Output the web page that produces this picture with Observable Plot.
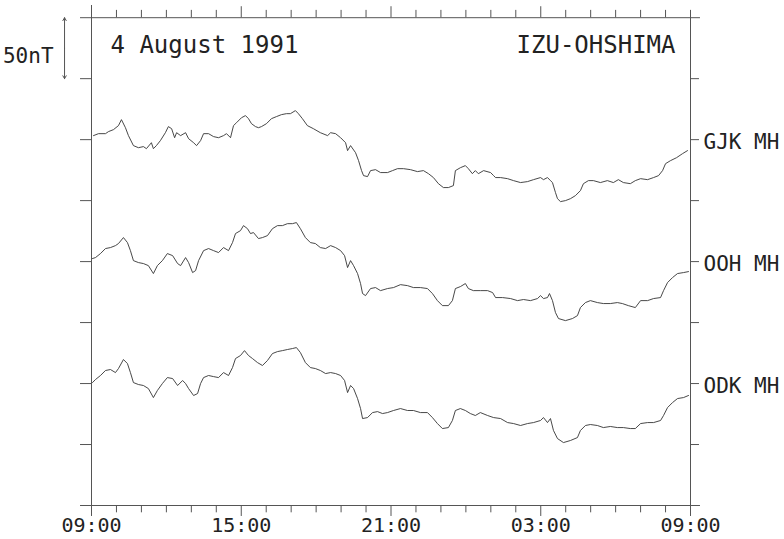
<!DOCTYPE html>
<html><head><meta charset="utf-8">
<script src="https://cdn.jsdelivr.net/npm/d3@7"></script>
<script src="https://cdn.jsdelivr.net/npm/@observablehq/plot@0.6"></script>
<style>body{margin:0;background:#fff}</style>
</head><body><div id="chart"></div>
<script>
// Hours since 09:00 on 4 August 1991; values are deviations in nT from each trace baseline
const stations = ["GJK MH", "OOH MH", "ODK MH"];
const baselines = [300, 200, 100];

const gjkT = [0.08,0.28,0.56,0.68,0.88,1.08,1.20,1.36,1.48,1.68,1.88,2.08,2.20,2.40,2.48,2.60,2.76,2.96,3.08,3.21,3.33,3.41,3.57,3.77,3.89,4.09,4.21,4.37,4.49,4.69,4.89,5.09,5.29,5.41,5.57,5.69,5.81,6.01,6.17,6.29,6.41,6.57,6.69,6.81,7.01,7.21,7.41,7.61,7.81,7.97,8.17,8.29,8.45,8.65,8.89,9.17,9.46,9.58,9.78,9.98,10.18,10.26,10.38,10.58,10.70,10.82,10.90,11.06,11.18,11.38,11.58,11.86,12.06,12.26,12.50,12.78,13.06,13.30,13.50,13.70,13.90,14.10,14.30,14.50,14.58,14.78,14.98,15.10,15.26,15.38,15.50,15.71,15.99,16.11,16.19,16.39,16.67,16.91,17.19,17.47,17.71,17.99,18.11,18.27,18.39,18.47,18.59,18.67,18.79,18.99,19.19,19.39,19.59,19.71,19.91,20.11,20.39,20.67,20.91,21.11,21.31,21.59,21.79,22.00,22.28,22.52,22.72,22.88,23.00,23.20,23.44,23.68,23.88];
const gjkV = [3.3,4.9,4.9,6.6,8.2,11.5,16.4,9.8,3.3,-4.9,-6.6,-5.7,-7.4,-2.5,-7.4,-4.9,-0.8,5.7,10.7,9.0,1.6,5.7,3.3,5.7,0.8,-2.5,-4.9,-0.8,4.9,4.9,2.5,1.6,3.3,4.9,1.6,11.5,13.9,18.0,19.7,17.2,13.1,10.7,9.8,10.7,13.1,17.2,18.9,20.5,21.3,21.3,23.8,21.3,17.2,11.5,9.0,5.7,3.3,5.7,4.9,1.6,-2.5,-9.0,-4.9,-10.7,-17.2,-25.4,-29.5,-30.3,-25.4,-24.6,-27.0,-27.0,-25.4,-23.8,-23.8,-24.6,-26.2,-25.4,-27.9,-31.1,-36.1,-39.3,-39.3,-37.7,-25.4,-23.0,-21.3,-23.8,-27.9,-25.4,-27.9,-25.4,-27.0,-29.5,-31.1,-31.1,-32.0,-33.6,-35.2,-34.4,-32.8,-31.1,-32.8,-31.1,-33.6,-35.2,-43.4,-48.4,-50.8,-50.0,-48.4,-45.9,-41.8,-36.1,-33.6,-33.6,-35.2,-33.6,-35.2,-32.8,-35.2,-36.1,-33.6,-32.0,-32.8,-31.1,-29.5,-25.4,-19.7,-17.2,-14.8,-11.5,-9.0];

const oohT = [0.04,0.16,0.36,0.56,0.76,0.96,1.08,1.28,1.44,1.56,1.68,1.88,2.08,2.28,2.48,2.64,2.84,3.04,3.25,3.45,3.57,3.77,3.89,4.05,4.17,4.29,4.49,4.69,4.89,5.09,5.29,5.49,5.65,5.77,5.97,6.09,6.25,6.37,6.49,6.69,6.85,7.05,7.25,7.45,7.65,7.85,8.05,8.21,8.37,8.57,8.77,8.97,9.17,9.38,9.58,9.78,9.98,10.14,10.26,10.38,10.50,10.66,10.78,10.86,10.98,11.18,11.38,11.58,11.86,12.10,12.38,12.66,12.90,13.18,13.46,13.66,13.86,14.06,14.30,14.46,14.58,14.78,14.98,15.10,15.30,15.58,15.87,16.07,16.19,16.47,16.79,17.07,17.31,17.59,17.87,17.99,18.11,18.27,18.35,18.47,18.59,18.71,18.99,19.27,19.47,19.59,19.79,19.99,20.27,20.51,20.79,21.07,21.27,21.51,21.79,22.00,22.28,22.52,22.80,22.92,23.08,23.28,23.48,23.72,23.92];
const oohV = [2.5,3.3,6.6,10.7,11.5,13.1,14.8,19.7,15.6,9.0,0.8,-0.8,-1.6,-3.3,-9.8,-3.3,0.8,6.6,4.9,-1.6,-3.3,3.3,-0.8,-9.0,-7.4,0.8,9.0,10.7,9.0,7.4,11.5,9.0,15.6,23.0,25.4,29.5,27.0,23.0,23.8,18.9,19.7,21.3,27.0,29.5,29.5,31.1,31.1,32.0,27.0,19.7,15.6,14.8,11.5,10.7,13.1,11.5,9.0,4.9,-4.9,0.8,-3.3,-9.8,-18.0,-26.2,-27.9,-22.1,-21.3,-23.8,-22.1,-21.3,-18.9,-19.7,-21.3,-21.3,-22.1,-26.2,-32.0,-36.1,-36.1,-32.0,-22.1,-20.5,-18.0,-22.1,-23.8,-23.8,-23.8,-25.4,-29.5,-29.5,-30.3,-32.0,-31.1,-32.0,-30.3,-27.9,-30.3,-29.5,-26.2,-32.0,-41.8,-46.7,-48.4,-46.7,-44.3,-37.7,-33.6,-32.0,-33.6,-34.4,-34.4,-33.6,-34.4,-36.1,-37.7,-32.0,-32.0,-30.3,-29.5,-23.8,-17.2,-13.1,-9.8,-9.0,-8.2];

const odkT = [0.04,0.16,0.36,0.56,0.76,0.96,1.08,1.28,1.44,1.56,1.68,1.88,2.08,2.28,2.48,2.64,2.84,3.04,3.25,3.45,3.65,3.77,3.89,4.09,4.25,4.37,4.49,4.69,4.89,5.09,5.29,5.49,5.65,5.77,5.97,6.13,6.29,6.45,6.65,6.85,7.05,7.25,7.45,7.65,7.85,8.05,8.21,8.37,8.57,8.77,8.97,9.17,9.38,9.58,9.78,9.98,10.14,10.26,10.38,10.50,10.66,10.78,10.86,11.06,11.26,11.46,11.66,11.86,12.10,12.38,12.66,12.90,13.18,13.46,13.66,13.86,14.06,14.30,14.46,14.58,14.78,14.98,15.18,15.38,15.58,15.87,16.11,16.39,16.67,16.91,17.19,17.47,17.71,17.99,18.11,18.27,18.39,18.51,18.67,18.91,19.19,19.47,19.59,19.79,19.99,20.27,20.51,20.79,21.07,21.31,21.59,21.79,22.00,22.28,22.52,22.80,22.92,23.08,23.28,23.48,23.72,23.92];
const odkV = [0.8,3.3,6.6,10.7,11.5,9.0,12.3,19.7,16.4,9.0,0.8,-0.8,-1.6,-4.1,-11.5,-5.7,0,4.9,4.1,-1.6,2.5,0,-4.1,-9.8,-8.2,0,4.9,6.6,5.7,4.9,9.0,6.6,13.1,20.5,23.0,27.0,23.0,20.5,17.2,14.8,18.9,24.6,26.2,27.0,27.9,28.7,29.5,25.4,17.2,13.1,12.3,10.7,8.2,9.0,8.2,6.6,2.5,-7.4,-1.6,-4.1,-12.3,-20.5,-28.7,-27.9,-23.8,-23.0,-24.6,-23.8,-22.1,-20.5,-22.1,-22.1,-23.8,-23.8,-27.9,-32.8,-36.9,-36.1,-30.3,-22.1,-20.5,-22.1,-24.6,-26.2,-23.8,-26.2,-27.9,-28.7,-32.0,-32.8,-34.4,-32.8,-32.0,-30.3,-27.9,-32.0,-28.7,-38.5,-45.1,-48.4,-46.7,-44.3,-38.5,-34.4,-33.6,-34.4,-36.1,-35.2,-36.1,-36.1,-36.9,-36.9,-32.8,-32.0,-32.0,-30.3,-26.2,-19.7,-15.6,-12.3,-11.5,-9.8];

const tickHours = [0, 6, 12, 18, 24];
const tickLabels = ["09:00", "15:00", "21:00", "03:00", "09:00"];
const hourTicks = [0,1,2,3,4,5,6,7,8,9,10,11,12,13,14,15,16,17,18,19,20,21,22,23,24];
const levelTicks = [50, 100, 150, 200, 250, 300, 350];
const titleText = "4 August 1991";
const placeText = "IZU-OHSHIMA";
const scaleText = "50nT";
const scaleNT = 50;

const series = [[gjkT, gjkV], [oohT, oohV], [odkT, odkV]];
const rows = series.flatMap(([T, V], s) =>
  T.map((t, i) => ({station: stations[s], t, v: baselines[s] + V[i]})));

const axisColor = "#555";
const font = "DejaVu Sans Mono, monospace";
const scaleTop = 400, scaleMid = scaleTop - scaleNT / 2, scaleBot = scaleTop - scaleNT;

const chart = Plot.plot({
  width: 784, height: 539,
  marginLeft: 91, marginRight: 94, marginTop: 5, marginBottom: 34,
  x: {domain: [0, 24], axis: null},
  y: {domain: [0, 410], axis: null},
  style: {fontFamily: font, background: "#fff", color: "#222"},
  marks: [
    // frame lines
    Plot.ruleX([0], {y1: -2, y2: 410, stroke: axisColor}),
    Plot.ruleX([24], {y1: -2, y2: 406, stroke: axisColor}),
    Plot.ruleY([0, 400], {x1: -0.44, x2: 24.4, stroke: axisColor}),
    // hourly ticks, bottom (down) and top (up)
    Plot.ruleX(hourTicks, {y1: 0, y2: h => h % 6 === 0 ? -9 : -6, stroke: axisColor}),
    Plot.ruleX(hourTicks.filter(h => h > 0 && h < 24), {y1: 400, y2: h => h % 6 === 0 ? 409 : 406, stroke: axisColor}),
    // level ticks, left and right
    Plot.ruleY(levelTicks, {x1: -0.44, x2: 0, stroke: axisColor}),
    Plot.ruleY(levelTicks, {x1: 24, x2: 24.36, stroke: axisColor}),
    // traces
    Plot.line(rows, {x: "t", y: "v", z: "station", stroke: "#333", strokeWidth: 0.9}),
    // time labels
    Plot.text(tickLabels, {x: (d, i) => tickHours[i], y: 0, dy: 20, fontSize: 20, fill: "#222"}),
    // station labels
    Plot.text(stations, {x: 24, y: (d, i) => baselines[i], dx: 13, dy: 3, textAnchor: "start", fontSize: 21, fill: "#222"}),
    // title texts
    Plot.text([titleText], {x: 0, y: 377, dx: 19, textAnchor: "start", fontSize: 24, fill: "#222"}),
    Plot.text([placeText], {x: 24, y: 377, dx: -15, textAnchor: "end", fontSize: 24, fill: "#222"}),
    // 50 nT scale bar
    Plot.arrow([0], {x1: -1.08, x2: -1.08, y1: scaleMid, y2: scaleTop, headLength: 5, stroke: axisColor, strokeWidth: 1}),
    Plot.arrow([0], {x1: -1.08, x2: -1.08, y1: scaleMid, y2: scaleBot, headLength: 5, stroke: axisColor, strokeWidth: 1}),
    Plot.text([scaleText], {x: -1.08, y: scaleMid, dx: -11, dy: 8, textAnchor: "end", fontSize: 21, fill: "#222"})
  ]
});
document.getElementById("chart").appendChild(chart);
</script>
</body></html>
